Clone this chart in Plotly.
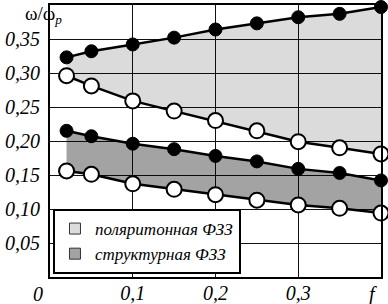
import plotly.graph_objects as go

x = [0.02, 0.05, 0.10, 0.15, 0.20, 0.25, 0.30, 0.35, 0.40]
upper_filled = [0.323, 0.332, 0.342, 0.352, 0.364, 0.373, 0.382, 0.387, 0.397]
upper_open = [0.296, 0.281, 0.259, 0.244, 0.230, 0.215, 0.199, 0.190, 0.181]
lower_filled = [0.215, 0.207, 0.196, 0.188, 0.178, 0.170, 0.159, 0.153, 0.142]
lower_open = [0.156, 0.151, 0.137, 0.129, 0.121, 0.113, 0.106, 0.101, 0.094]

legend_names = ["поляритонная ФЗЗ", "структурная ФЗЗ"]
y_ticks = [0.05, 0.10, 0.15, 0.20, 0.25, 0.30, 0.35]
y_ticktext = ["0,05", "0,10", "0,15", "0,20", "0,25", "0,30", "0,35"]
x_ticks = [0.1, 0.2, 0.3]
x_ticktext = ["0,1", "0,2", "0,3"]

SERIF = "Liberation Serif"
LIGHT = "rgba(0,0,0,0.14)"
DARK = "rgba(0,0,0,0.36)"

fig = go.Figure()

# fill areas (semi-transparent so grid lines show through)
nol = dict(width=0, color="rgba(0,0,0,0)")
fig.add_trace(go.Scatter(x=x, y=upper_open, mode="lines", line=nol, showlegend=False, hoverinfo="skip"))
fig.add_trace(go.Scatter(x=x, y=upper_filled, mode="lines", line=nol, fill="tonexty",
                         fillcolor=LIGHT, showlegend=False, hoverinfo="skip"))
fig.add_trace(go.Scatter(x=x, y=lower_open, mode="lines", line=nol, showlegend=False, hoverinfo="skip"))
fig.add_trace(go.Scatter(x=x, y=lower_filled, mode="lines", line=nol, fill="tonexty",
                         fillcolor=DARK, showlegend=False, hoverinfo="skip"))

# legend swatches
for name, col in zip(legend_names, ["#dcdcdc", "#a3a3a3"]):
    fig.add_trace(go.Scatter(x=[None], y=[None], mode="markers", name=name,
                             marker=dict(symbol="square", size=11, color=col,
                                         line=dict(color="#333", width=1))))

line = dict(color="black", width=2.5)
filled_marker = dict(symbol="circle", size=13, color="black", line=dict(color="black", width=1))
open_marker = dict(symbol="circle", size=15, color="white", line=dict(color="black", width=2))

for ys, mk in [(upper_filled, filled_marker), (upper_open, open_marker),
               (lower_filled, filled_marker), (lower_open, open_marker)]:
    fig.add_trace(go.Scatter(x=x, y=ys, mode="lines+markers", line=line, marker=mk,
                             showlegend=False, cliponaxis=False))

tickfont = dict(family=SERIF, size=20, color="black", style="italic")

fig.update_xaxes(range=[0, 0.4], tickvals=x_ticks, ticktext=x_ticktext, tickfont=tickfont,
                 showgrid=True, gridcolor="#111", gridwidth=1, zeroline=False, automargin=False,
                 showline=True, linecolor="black", linewidth=2, mirror=True, ticks="",
                 ticklabelstandoff=-3)
fig.update_yaxes(range=[0, 0.4], tickvals=y_ticks, ticktext=y_ticktext, tickfont=tickfont,
                 showgrid=True, gridcolor="#111", gridwidth=1, zeroline=False, automargin=False,
                 showline=True, linecolor="black", linewidth=2, mirror=True, ticks="",
                 ticklabelstandoff=4)

fig.add_annotation(x=0, y=0, xref="x", yref="paper", yanchor="top", text="0", showarrow=False,
                   xshift=-12, yshift=-4, font=tickfont)
fig.add_annotation(x=0.4, y=0, xref="x", yref="paper", yanchor="top", text="f", showarrow=False,
                   xshift=-8, yshift=-4, font=tickfont)
fig.add_annotation(x=-0.082, y=1.015, xref="paper", yref="paper", yanchor="top",
                   text="ω/ω<sub><i>p</i></sub>", showarrow=False,
                   font=dict(family=SERIF, size=19, color="black"))

fig.update_layout(
    width=388, height=304,
    margin=dict(l=50, r=7, t=5, b=27),
    plot_bgcolor="white", paper_bgcolor="white",
    legend=dict(x=0.009, y=0.011, xanchor="left", yanchor="bottom", traceorder="normal",
                bgcolor="white", bordercolor="black", borderwidth=2, itemwidth=30,
                font=dict(family=SERIF, size=17, color="black", style="italic"),
                tracegroupgap=0),
)

fig.write_html("out.html", config={"displayModeBar": False},
               post_script="document.body.style.margin='0';")
